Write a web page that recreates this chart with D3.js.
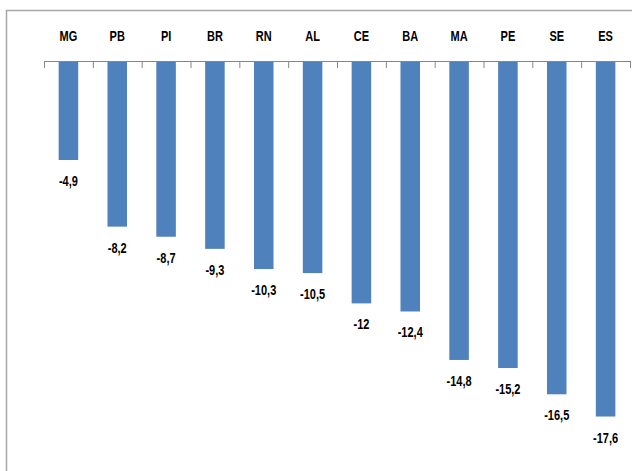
<!DOCTYPE html>
<html>
<head>
<meta charset="utf-8">
<script src="https://cdn.jsdelivr.net/npm/d3@7"></script>
<style>
  body { margin: 0; background: #fff; }
  text { font-family: "Liberation Sans", Arial, sans-serif; font-weight: bold; fill: #000; font-size: 14.5px; }
</style>
</head>
<body>
<div id="chart"></div>
<script>
// Data
var states = ["MG", "PB", "PI", "BR", "RN", "AL", "CE", "BA", "MA", "PE", "SE", "ES"];
var values = [-4.9, -8.2, -8.7, -9.3, -10.3, -10.5, -12, -12.4, -14.8, -15.2, -16.5, -17.6];

var svgW = 632, svgH = 471;
var axisY = 61;
var squeeze = 0.76; // narrow bold look of the original font

var svg = d3.select("#chart")
  .append("svg")
  .attr("width", svgW)
  .attr("height", svgH);

// chart border (clipped right and bottom like the original)
svg.append("rect")
  .attr("x", 6.5).attr("y", 10.5)
  .attr("width", 700).attr("height", 600)
  .attr("fill", "none")
  .attr("stroke", "#a6a6a6")
  .attr("stroke-width", 1.5);

// Scales
var x = d3.scaleBand()
  .domain(states)
  .range([44, 630])
  .paddingInner(0.6)
  .paddingOuter(0.3);

var y = d3.scaleLinear()
  .domain([0, -20])
  .range([axisY, axisY + 404]);

// Bars
svg.selectAll("rect.bar")
  .data(values)
  .enter()
  .append("rect")
  .attr("class", "bar")
  .attr("x", (d, i) => x(states[i]))
  .attr("y", y(0))
  .attr("width", x.bandwidth())
  .attr("height", d => y(d) - y(0))
  .attr("fill", "#4f81bd");

// Category axis with ticks between categories
var edges = d3.scaleLinear().domain([0, states.length]).range([44, 630]);
svg.append("g")
  .attr("transform", "translate(0," + axisY + ")")
  .call(d3.axisBottom(edges).ticks(states.length).tickSize(7).tickSizeOuter(0).tickFormat(""))
  .call(g => g.selectAll("path, line").attr("stroke", "#868686"));

// Category labels
svg.selectAll("text.cat")
  .data(states)
  .enter()
  .append("text")
  .attr("class", "cat")
  .attr("transform", d => "translate(" + (x(d) + x.bandwidth() / 2) + ",41) scale(" + squeeze + ",1)")
  .attr("text-anchor", "middle")
  .text(d => d);

// Value labels
var fmt = d => String(d).replace(".", ",");
svg.selectAll("text.val")
  .data(values)
  .enter()
  .append("text")
  .attr("class", "val")
  .attr("transform", (d, i) => "translate(" + (x(states[i]) + x.bandwidth() / 2) + "," + (y(d) + 26) + ") scale(" + squeeze + ",1)")
  .attr("text-anchor", "middle")
  .text(fmt);
</script>
</body>
</html>
